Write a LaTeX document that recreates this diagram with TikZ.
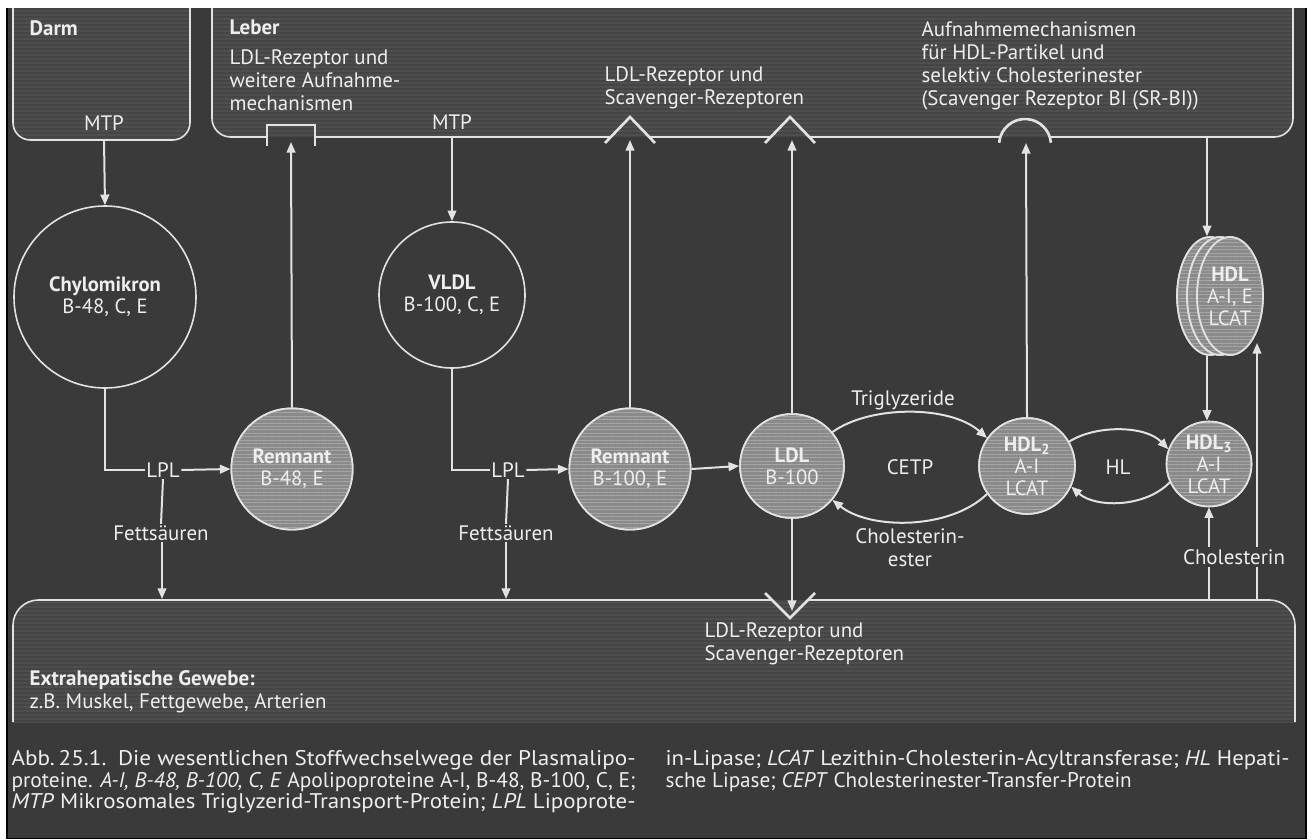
\documentclass[tikz,border=0pt]{standalone}
\usepackage{graphicx}
\usepackage{fontspec}
\setmainfont{PT Sans}
\usetikzlibrary{arrows.meta,patterns.meta,shapes.geometric}
\definecolor{bgcol}{HTML}{3A3A3A}
\definecolor{boxcol}{HTML}{454545}
\definecolor{boxstripe}{HTML}{4E4E4E}
\definecolor{linecol}{HTML}{E2E2E2}
\definecolor{txtcol}{HTML}{EEEEEE}
\definecolor{partcol}{HTML}{8A8A8A}
\definecolor{partstripe}{HTML}{A6A6A6}
\newcommand\lblsize{\fontsize{15.7}{17.25}\selectfont}
\newcommand\inner{\fontsize{15.5}{16.5}\selectfont}
\newcommand\capsize{\fontsize{15.9}{16.2}\selectfont}
\newcommand\capline[1]{\resizebox{468pt}{\height}{#1}}
\tikzset{
  wire/.style={draw=linecol, line width=1.5pt},
  arr/.style={wire, -{Triangle[length=8pt,width=6.5pt]}},
  lbl/.style={text=txtcol, font=\lblsize, inner sep=1pt},
  blbl/.style={lbl, font=\lblsize\bfseries},
  mlbl/.style={lbl, align=left, anchor=west},
  caption/.style={text=txtcol, font=\capsize, inner sep=1pt, align=left, anchor=north west},
  boxline/.style={draw=linecol, line width=1.2pt},
  boxfill/.style={fill=boxcol, postaction={pattern={Lines[angle=0,distance=3pt,line width=0.8pt]}, pattern color=boxstripe}},
  openpart/.style={circle, draw=linecol, line width=1.2pt, text=txtcol, font=\inner, align=center, inner sep=0pt},
  particle/.style={circle, draw=linecol, line width=1.2pt, fill=partcol, text=txtcol, font=\inner, align=center, inner sep=0pt,
     postaction={pattern={Lines[angle=0,distance=2.6pt,line width=0.7pt]}, pattern color=partstripe},
     postaction={draw=linecol, line width=1.2pt}},
  disc/.style={ellipse, draw=linecol, line width=1.2pt, fill=partcol, minimum width=49.5pt, minimum height=88.5pt, inner sep=0pt,
     postaction={pattern={Lines[angle=0,distance=2.6pt,line width=0.7pt]}, pattern color=partstripe},
     postaction={draw=linecol, line width=1.2pt}},
  recep/.style={draw=linecol, line width=2pt},
}
\begin{document}
\begin{tikzpicture}[x=0.75pt,y=-0.75pt]
\useasboundingbox (0,0) rectangle (1313,839);
\fill[white] (0,0) rectangle (1313,839);
\fill[bgcol] (7,8) rectangle (1306,839);

% --- compartments ---
\path[boxfill, rounded corners=13pt] (13,-40) rectangle (190,140);
\path[boxfill, rounded corners=14pt] (212,-40) rectangle (1293,137);
\begin{scope}
  \clip (0,0) rectangle (1313,722);
  \path[boxfill, rounded corners=19pt] (13,600) rectangle (1295,800);
\end{scope}
\fill[white] (0,0) rectangle (1313,8);
\draw[black, line width=1.2pt] (7,8) -- (7,839) (1306,8) -- (1306,839) (7,838.5) -- (1306,838.5);

% Darm outline
\draw[boxline, rounded corners=13pt] (13,8) -- (13,140) -- (190,140) -- (190,8);
% Leber outline with receptors
\draw[boxline, rounded corners=14pt] (212,8) -- (212,137) -- (267,137);
\draw[boxline] (315,137) -- (611,137);
\draw[boxline] (649,137) -- (771,137);
\draw[boxline] (809,137) -- (999,137);
\draw[boxline, rounded corners=14pt] (1051,137) -- (1293,137) -- (1293,8);
\draw[recep] (267,146) -- (267,125) -- (315,125) -- (315,146);
\draw[recep] (605,143) -- (630,117) -- (655,143);
\draw[recep] (765,143) -- (790,117) -- (815,143);
\draw[recep] (1025,145) ++(185:26) arc[start angle=185, end angle=355, radius=26];
% extrahepatic outline with receptor
\draw[boxline, rounded corners=19pt] (13,722) -- (13,600) -- (772,600);
\draw[boxline, rounded corners=19pt] (808,600) -- (1295,600) -- (1295,722);
\draw[recep] (765,593) -- (790,618) -- (815,593);

% --- compartment texts ---
\node[blbl, anchor=west] (darm) at (28,28) {Darm};
\node[blbl, anchor=west] (leber) at (228,27) {Leber};
\node[mlbl] (leberrez) at (228,80) {LDL-Rezeptor und\\weitere Aufnahme-\\mechanismen};
\node[lbl] (mtp1) at (104,123) {MTP};
\node[lbl] (mtp2) at (452,122) {MTP};
\node[mlbl] (rezsc) at (603,88) {LDL-Rezeptor und\\Scavenger-Rezeptoren};
\node[mlbl] (aufn) at (920,66) {Aufnahmemechanismen\\für HDL-Partikel und\\selektiv Cholesterinester\\(Scavenger Rezeptor BI (SR-BI))};
\node[mlbl] (rezsc2) at (703,644) {LDL-Rezeptor und\\Scavenger-Rezeptoren};
\node[mlbl] (extra) at (28,692) {\textbf{Extrahepatische Gewebe:}\\z.B. Muskel, Fettgewebe, Arterien};

% receptor / box anchor points
\coordinate (darmB) at (104,140);
\coordinate (leberB) at (452,137);
\coordinate (rec1) at (291,142);
\coordinate (rec2) at (630,140);
\coordinate (rec3) at (792,140);
\coordinate (rec4) at (1026,143);
\coordinate (leberHDL) at (1207,136);
\coordinate (fettB1) at (162,599);
\coordinate (fettB2) at (506,599);
\coordinate (recB) at (792,611);
\coordinate (cholB) at (1209,600);
\coordinate (cholB2) at (1257,600);
\coordinate (discIn) at (1257,343);

% --- particles ---
\node[openpart, minimum size=136.5pt] (chylo) at (105,297) {\textbf{Chylomikron}\\B-48, C, E};
\node[openpart, minimum size=109.5pt] (vldl) at (452,295) {\textbf{VLDL}\\B-100, C, E};
\node[particle, minimum size=91pt] (rem1) at (292,469) {\textbf{Remnant}\\B-48, E};
\node[particle, minimum size=91pt] (rem2) at (630,469) {\textbf{Remnant}\\B-100, E};
\node[particle, minimum size=78pt] (ldl) at (792,466) {\textbf{LDL}\\B-100};
\node[particle, minimum size=72pt] (hdl2) at (1027,466) {\textbf{HDL\textsubscript{2}}\\A-I\\LCAT};
\node[particle, minimum size=63.75pt] (hdl3) at (1209,464) {\textbf{HDL\textsubscript{3}}\\A-I\\LCAT};
\node[disc] (discb) at (1210,296) {};
\node[disc] (discm) at (1220,296) {};
\node[disc, text=txtcol, font=\inner, align=center] (hdl) at (1230,296) {\textbf{HDL}\\A-I, E\\LCAT};

% --- process labels ---
\node[lbl] (lpl1) at (163,470) {LPL};
\node[lbl] (lpl2) at (508,470) {LPL};
\node[lbl] (fett1) at (161,533) {Fettsäuren};
\node[lbl] (fett2) at (506,533) {Fettsäuren};
\node[lbl] (trig) at (903,400) {Triglyzeride};
\node[lbl] (cetp) at (910,467) {CETP};
\node[lbl, align=center] (chest) at (910,548) {Cholesterin-\\ester};
\node[lbl] (hl) at (1118,467) {HL};

% --- connectors ---
\draw[arr] (darmB) -- (chylo.north);
\draw[arr] (leberB) -- (vldl.north);
\draw[arr] (rem1.north) -- (rec1);
\draw[arr] (rem2.north) -- (rec2);
\draw[arr] (ldl.north) -- (rec3);
\draw[arr] (hdl2.north) -- (rec4);
\draw[arr] (leberHDL) -- (leberHDL |- discb.north);
\draw[wire] (chylo.south) |- (lpl1.west);
\draw[arr] (lpl1.east) -- (rem1.west);
\draw[wire] (lpl1.south) -- (fett1.north);
\draw[arr] (fett1.south -| fettB1) -- (fettB1);
\draw[wire] (vldl.south) |- (lpl2.west);
\draw[arr] (lpl2.east) -- (rem2.west);
\draw[wire] (lpl2.south) -- (fett2.north);
\draw[arr] (fett2.south) -- (fettB2);
\draw[arr] (rem2.east) -- (ldl.west);
\draw[arr] (ldl.south) -- (recB);
\draw[arr] (ldl.40) .. controls (870,405) and (950,405) .. (hdl2.145);
\draw[arr] (hdl2.215) .. controls (950,530) and (870,530) .. (ldl.-40);
\draw[arr] (hdl2.30) .. controls (1095,425) and (1145,425) .. (hdl3.160);
\draw[arr] (hdl3.205) .. controls (1145,508) and (1095,508) .. (hdl2.-25);
\draw[arr] (discb.south -| leberHDL) -- (leberHDL |- hdl3.north);
\draw[arr] (cholB) -- (hdl3.south);
\draw[arr] (cholB2) -- (discIn);
\node[lbl, fill=bgcol, inner sep=2pt] (chol) at (1234,557) {Cholesterin};

% --- caption ---
\node[caption] (capl) at (10,749) {\capline{Abb.\,25.1.\enspace Die wesentlichen Stoffwechselwege der Plasmalipo-}\\\capline{proteine. \textit{A-I, B-48, B-100, C, E} Apolipoproteine A-I, B-48, B-100, C, E;}\\\capline{\textit{MTP} Mikrosomales Triglyzerid-Transport-Protein; \textit{LPL} Lipoprote-}};
\node[caption] (capr) at (664,749) {\capline{in-Lipase; \textit{LCAT} Lezithin-Cholesterin-Acyltransferase; \textit{HL} Hepati-}\\sche Lipase; \textit{CEPT} Cholesterinester-Transfer-Protein};
\end{tikzpicture}
\end{document}
